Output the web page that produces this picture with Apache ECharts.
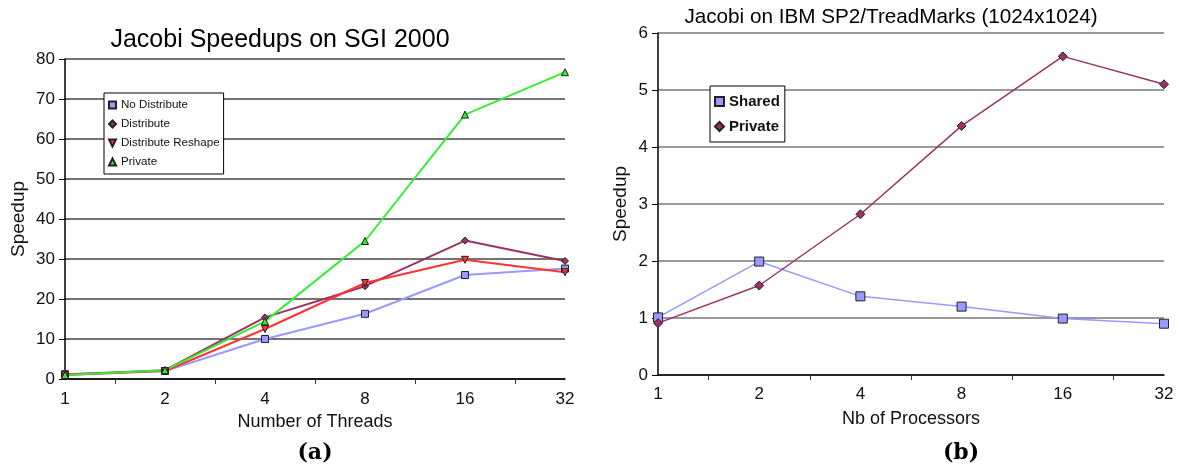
<!DOCTYPE html>
<html>
<head>
<meta charset="utf-8">
<script src="https://cdn.jsdelivr.net/npm/echarts@6/dist/echarts.min.js"></script>
<style>
html,body{margin:0;padding:0;background:#fff;}
#c{width:1179px;height:469px;}
</style>
</head>
<body>
<div id="c"></div>
<script>
// ---- data ----
const threads = ['1', '2', '4', '8', '16', '32'];
const noDistribute = [1.2, 2.0, 10.0, 16.3, 26.0, 27.6];
const distribute = [1.1, 2.2, 15.4, 23.2, 34.6, 29.5];
const distributeReshape = [1.0, 2.0, 12.5, 24.0, 29.8, 26.7];
const privateA = [1.0, 2.2, 14.4, 34.5, 66.1, 76.7];
const speedupTicksA = [0, 10, 20, 30, 40, 50, 60, 70, 80];

const processors = ['1', '2', '4', '8', '16', '32'];
const shared = [1.01, 1.99, 1.38, 1.20, 0.99, 0.90];
const privateB = [0.91, 1.57, 2.82, 4.37, 5.59, 5.10];
const speedupTicksB = [0, 1, 2, 3, 4, 5, 6];

const titleA = 'Jacobi Speedups on SGI 2000';
const titleB = 'Jacobi on IBM SP2/TreadMarks (1024x1024)';

// ---- helpers ----
const FONT = "'Liberation Sans', Arial, sans-serif";
const toXY = arr => arr.map((v, i) => [i, v]);

function xAxis(gridIndex, cats, name, labelMargin, nameGap) {
  return {
    type: 'value', gridIndex, min: 0, max: cats.length - 1, interval: 1,
    name, nameLocation: 'middle', nameGap,
    nameTextStyle: { fontFamily: FONT, fontSize: 18, color: '#111' },
    axisLine: { show: true, onZero: false, lineStyle: { color: '#000', width: 1.5 } },
    axisTick: { show: false },
    minorTick: { show: true, splitNumber: 2, length: 5, lineStyle: { color: '#333', width: 1 } },
    splitLine: { show: false },
    axisLabel: { margin: labelMargin, fontFamily: FONT, fontSize: 17, color: '#111',
      formatter: v => (Number.isInteger(v) ? cats[v] : '') }
  };
}
function yAxis(gridIndex, ticks, gridColor, nameGap) {
  return {
    type: 'value', gridIndex, min: ticks[0], max: ticks[ticks.length - 1],
    interval: ticks[1] - ticks[0],
    name: 'Speedup', nameLocation: 'middle', nameGap, nameRotate: 90,
    nameTextStyle: { fontFamily: FONT, fontSize: 19, color: '#111' },
    axisLine: { show: true, lineStyle: { color: '#000', width: 1.5 } },
    axisTick: { show: true, length: 6, lineStyle: { color: '#000' } },
    splitLine: { show: true, lineStyle: { color: gridColor, width: 1.5 } },
    axisLabel: { margin: 10, fontFamily: FONT, fontSize: 17, color: '#111' }
  };
}
function line(name, data, xi, color, symbol, size, width, extra) {
  return Object.assign({
    type: 'line', name, xAxisIndex: xi, yAxisIndex: xi, data: toXY(data),
    symbol, symbolSize: size, showSymbol: true,
    lineStyle: { color, width },
    itemStyle: { color, borderColor: '#222', borderWidth: 1 },
    emphasis: { disabled: true }, z: 3
  }, extra || {});
}

const chart = echarts.init(document.getElementById('c'), null, { renderer: 'canvas' });
chart.setOption({
  animation: false,
  backgroundColor: '#fff',
  grid: [
    { left: 65, top: 59, width: 500, height: 320, containLabel: false },
    { left: 658, top: 33, width: 506, height: 342, containLabel: false }
  ],
  xAxis: [
    xAxis(0, threads, 'Number of Threads', 12, 31),
    xAxis(1, processors, 'Nb of Processors', 11, 35)
  ],
  yAxis: [
    yAxis(0, speedupTicksA, '#444', 37),
    yAxis(1, speedupTicksB, '#777', 28)
  ],
  legend: [
    {
      orient: 'vertical', left: 104, top: 93,
      padding: [6, 4, 6, 4], itemGap: 7, itemWidth: 7, itemHeight: 7,
      backgroundColor: '#fff', borderColor: '#000', borderWidth: 1, borderRadius: 0,
      textStyle: { fontFamily: FONT, fontSize: 11.6, color: '#111' },
      formatter: n => n.replace(/ \([ab]\)$/, ''),
      selectedMode: false,
      data: [
        { name: 'No Distribute', icon: 'rect' },
        { name: 'Distribute', icon: 'diamond' },
        { name: 'Distribute Reshape', icon: 'path://M0,0L10,0L5,10Z' },
        { name: 'Private (a)', icon: 'triangle' }
      ]
    },
    {
      orient: 'vertical', left: 710, top: 86,
      padding: [8, 5, 8, 4], itemGap: 10, itemWidth: 9, itemHeight: 9,
      backgroundColor: '#fff', borderColor: '#000', borderWidth: 1, borderRadius: 0,
      textStyle: { fontFamily: FONT, fontSize: 15, fontWeight: 'bold', color: '#111' },
      formatter: n => n.replace(/ \([ab]\)$/, ''),
      selectedMode: false,
      data: [
        { name: 'Shared', icon: 'rect' },
        { name: 'Private (b)', icon: 'diamond' }
      ]
    }
  ],
  series: [
    line('No Distribute', noDistribute, 0, '#9999ff', 'rect', 7, 2),
    line('Distribute', distribute, 0, '#993366', 'diamond', 7, 2),
    line('Distribute Reshape', distributeReshape, 0, '#ff3333', 'triangle', 7, 2, { symbolRotate: 180 }),
    line('Private (a)', privateA, 0, '#33ee33', 'triangle', 7, 2),
    line('Shared', shared, 1, '#9999ff', 'rect', 9, 1.5),
    line('Private (b)', privateB, 1, '#993366', 'diamond', 9, 1.5)
  ],
  graphic: [
    { type: 'text', x: 280, y: 40, style: { text: titleA, fontFamily: FONT, fontSize: 25, fill: '#000', textAlign: 'center', textVerticalAlign: 'middle' } },
    { type: 'text', x: 891, y: 17, style: { text: titleB, fontFamily: FONT, fontSize: 20.7, fill: '#000', textAlign: 'center', textVerticalAlign: 'middle' } },
    { type: 'text', x: 315, y: 453, style: { text: '(a)', fontFamily: "'DejaVu Serif', 'Liberation Serif', serif", fontWeight: 'bold', fontSize: 22, fill: '#000', textAlign: 'center', textVerticalAlign: 'middle' } },
    { type: 'text', x: 961, y: 453, style: { text: '(b)', fontFamily: "'DejaVu Serif', 'Liberation Serif', serif", fontWeight: 'bold', fontSize: 22, fill: '#000', textAlign: 'center', textVerticalAlign: 'middle' } }
  ]
});
</script>
</body>
</html>
